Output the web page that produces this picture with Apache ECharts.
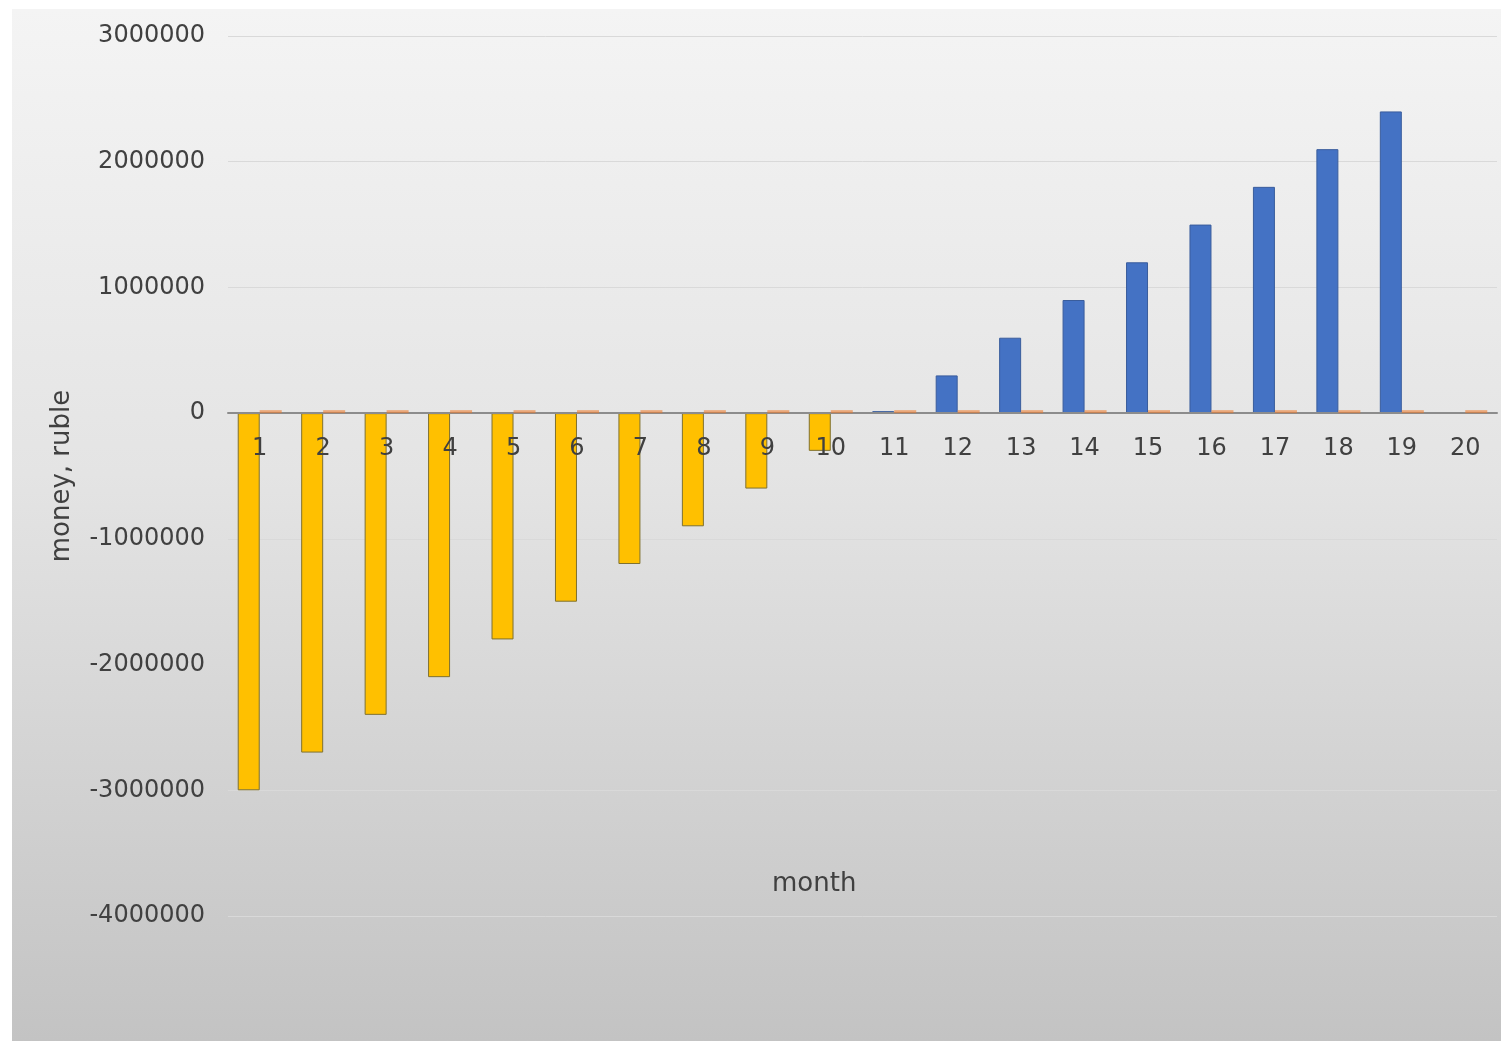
<!DOCTYPE html>
<html>
<head>
<meta charset="utf-8">
<script src="https://cdn.jsdelivr.net/npm/echarts@6/dist/echarts.min.js"></script>
<style>
html,body{margin:0;padding:0;background:#ffffff;}
#chart{width:1501px;height:1041px;}
</style>
</head>
<body>
<div id="chart"></div>
<script>
var months = ['1','2','3','4','5','6','7','8','9','10','11','12','13','14','15','16','17','18','19','20'];
var negativeValues = [-3000000,-2700000,-2400000,-2100000,-1800000,-1500000,-1200000,-900000,-600000,-300000,null,null,null,null,null,null,null,null,null,null];
var positiveValues = [null,null,null,null,null,null,null,null,null,null,0,300000,600000,900000,1200000,1500000,1800000,2100000,2400000,null];
var secondValues = [0,0,0,0,0,0,0,0,0,0,0,0,0,0,0,0,0,0,0,0];
var yMin = -4000000, yMax = 3000000, yStep = 1000000;

var FONT = 'DejaVu Sans';
var GRID_TOP = 36, GRID_BOTTOM_PX = 916;
var zeroY = GRID_TOP + (GRID_BOTTOM_PX - GRID_TOP) * (yMax - 0) / (yMax - yMin);
var chart = echarts.init(document.getElementById('chart'), null, {renderer:'canvas'});
chart.setOption({
  animation:false,
  graphic:[
    {type:'rect', z:-10, silent:true, shape:{x:12,y:9,width:1489,height:1032},
     style:{fill:new echarts.graphic.LinearGradient(0,0,0,1,[
       {offset:0,color:'#f4f4f4'},{offset:0.45,color:'#e4e4e4'},{offset:1,color:'#c3c3c3'}])}},
    {type:'text', left:772, top:871, z:20,
     style:{text:'month', font:'26px "'+FONT+'"', fill:'#404040'}}
  ],
  grid:{left:228,right:4,top:GRID_TOP,bottom:1041-GRID_BOTTOM_PX,containLabel:false},
  xAxis:{
    type:'category', data:months, z:10, position:'bottom',
    offset:-(GRID_BOTTOM_PX - zeroY),
    axisLine:{onZero:false, lineStyle:{color:'#8c8c8c', width:2}},
    axisTick:{show:false},
    axisLabel:{color:'#404040', fontSize:24, fontFamily:FONT, margin:24, interval:0},
    splitLine:{show:false}
  },
  yAxis:{
    type:'value', min:yMin, max:yMax, interval:yStep,
    name:'money, ruble', nameLocation:'middle', nameGap:153, nameRotate:90,
    nameTextStyle:{color:'#404040', fontSize:26, fontFamily:FONT},
    axisLine:{show:false}, axisTick:{show:false},
    axisLabel:{color:'#404040', fontSize:24, fontFamily:FONT, margin:23,
      formatter:function(v){return String(v);}},
    splitLine:{lineStyle:{color:'#d9d9d9', width:1}}
  },
  series:[
    {name:'loss', type:'bar', stack:'main', data:negativeValues, barWidth:22, barGap:'0%',
     itemStyle:{color:'#FFC000', borderColor:'#7f7130', borderWidth:1}},
    {name:'profit', type:'bar', stack:'main', data:positiveValues, barWidth:22, barMinHeight:2,
     itemStyle:{color:'#4472C4', borderColor:'#3a5d9c', borderWidth:1}},
    {name:'other', type:'bar', data:secondValues, barWidth:22, barMinHeight:3, z:12,
     itemStyle:{color:'#ED7D31', opacity:0.6}}
  ]
});
</script>
</body>
</html>
